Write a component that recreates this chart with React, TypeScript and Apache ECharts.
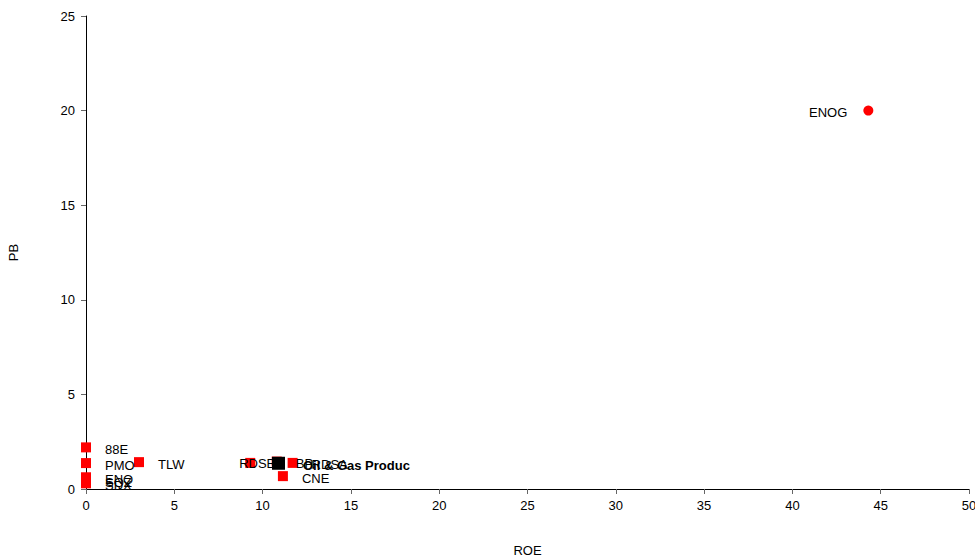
import React, { useEffect, useRef } from "react";
import * as echarts from "echarts";

const companyNames = ["88E", "PMO", "TLW", "ENQ", "SQZ", "SDX", "BP.", "RDSA", "CNE", "RDSB"];
const companyROE = [0, 0, 3.0, 0, 0, 0, 10.8, 11.7, 11.15, 9.3];
const companyPB = [2.2, 1.37, 1.42, 0.62, 0.45, 0.3, 1.45, 1.38, 0.68, 1.38];

const outlierNames = ["ENOG"];
const outlierROE = [44.3];
const outlierPB = [20.0];

const sectorNames = ["Oil & Gas Produc"];
const sectorROE = [10.9];
const sectorPB = [1.36];

const xTicks = [0, 5, 10, 15, 20, 25, 30, 35, 40, 45, 50];
const yTicks = [0, 5, 10, 15, 20, 25];

export default function App() {
  const ref = useRef<HTMLDivElement>(null);
  useEffect(() => {
    if (!ref.current) return;
    const chart = echarts.init(ref.current, undefined, { renderer: "svg" });
    const font = "Liberation Sans, Arial, sans-serif";
    const companyData = companyNames.map((n, i) => {
      const item: any = { name: n, value: [companyROE[i], companyPB[i]] };
      if (n === "RDSB") {
        item.label = { position: "inside", offset: [7, 1] };
      }
      return item;
    });
    chart.setOption({
      animation: false,
      textStyle: { fontFamily: font },
      grid: { left: 86, right: 6, top: 16, bottom: 71, containLabel: false, outerBoundsMode: "none" },
      xAxis: {
        type: "value",
        min: xTicks[0],
        max: xTicks[xTicks.length - 1],
        interval: 5,
        name: "ROE",
        nameLocation: "middle",
        nameGap: 55,
        nameTextStyle: { color: "#000", fontSize: 13, fontFamily: font },
        axisLine: { show: true, lineStyle: { color: "#000", width: 1 } },
        axisTick: { show: true, length: 5, lineStyle: { color: "#666" } },
        axisLabel: { color: "#000", fontSize: 13, margin: 10, fontFamily: font },
        splitLine: { show: false },
      },
      yAxis: {
        type: "value",
        min: yTicks[0],
        max: yTicks[yTicks.length - 1],
        interval: 5,
        name: "PB",
        nameLocation: "middle",
        nameGap: 66,
        nameRotate: 90,
        nameTextStyle: { color: "#000", fontSize: 13, fontFamily: font },
        axisLine: { show: true, lineStyle: { color: "#000", width: 1 } },
        axisTick: { show: true, length: 5, lineStyle: { color: "#666" } },
        axisLabel: { color: "#000", fontSize: 13, margin: 11, fontFamily: font },
        splitLine: { show: false },
      },
      series: [
        {
          type: "scatter",
          symbol: "rect",
          symbolSize: 10,
          itemStyle: { color: "#ff0000", opacity: 1 },
          label: {
            show: true,
            formatter: "{b}",
            position: "right",
            distance: 14,
            offset: [0, 2],
            color: "#000",
            fontSize: 13,
            fontFamily: font,
          },
          data: companyData,
        },
        {
          type: "scatter",
          symbol: "circle",
          symbolSize: 10,
          itemStyle: { color: "#ff0000", opacity: 1 },
          label: {
            show: true,
            formatter: "{b}",
            position: "left",
            distance: 16,
            offset: [0, 2],
            color: "#000",
            fontSize: 13,
            fontFamily: font,
          },
          data: outlierNames.map((n, i) => ({ name: n, value: [outlierROE[i], outlierPB[i]] })),
        },
        {
          type: "scatter",
          symbol: "rect",
          symbolSize: 13,
          itemStyle: { color: "#000", opacity: 1 },
          z: 5,
          label: {
            show: true,
            formatter: "{b}",
            position: "right",
            distance: 18,
            offset: [0, 2],
            color: "#000",
            fontSize: 13,
            fontWeight: "bold",
            fontFamily: font,
          },
          data: sectorNames.map((n, i) => ({ name: n, value: [sectorROE[i], sectorPB[i]] })),
        },
      ],
    });
    return () => chart.dispose();
  }, []);
  return (
    <div
      ref={ref}
      style={{ position: "fixed", left: 0, top: 0, width: 975, height: 560, background: "#fff" }}
    />
  );
}
